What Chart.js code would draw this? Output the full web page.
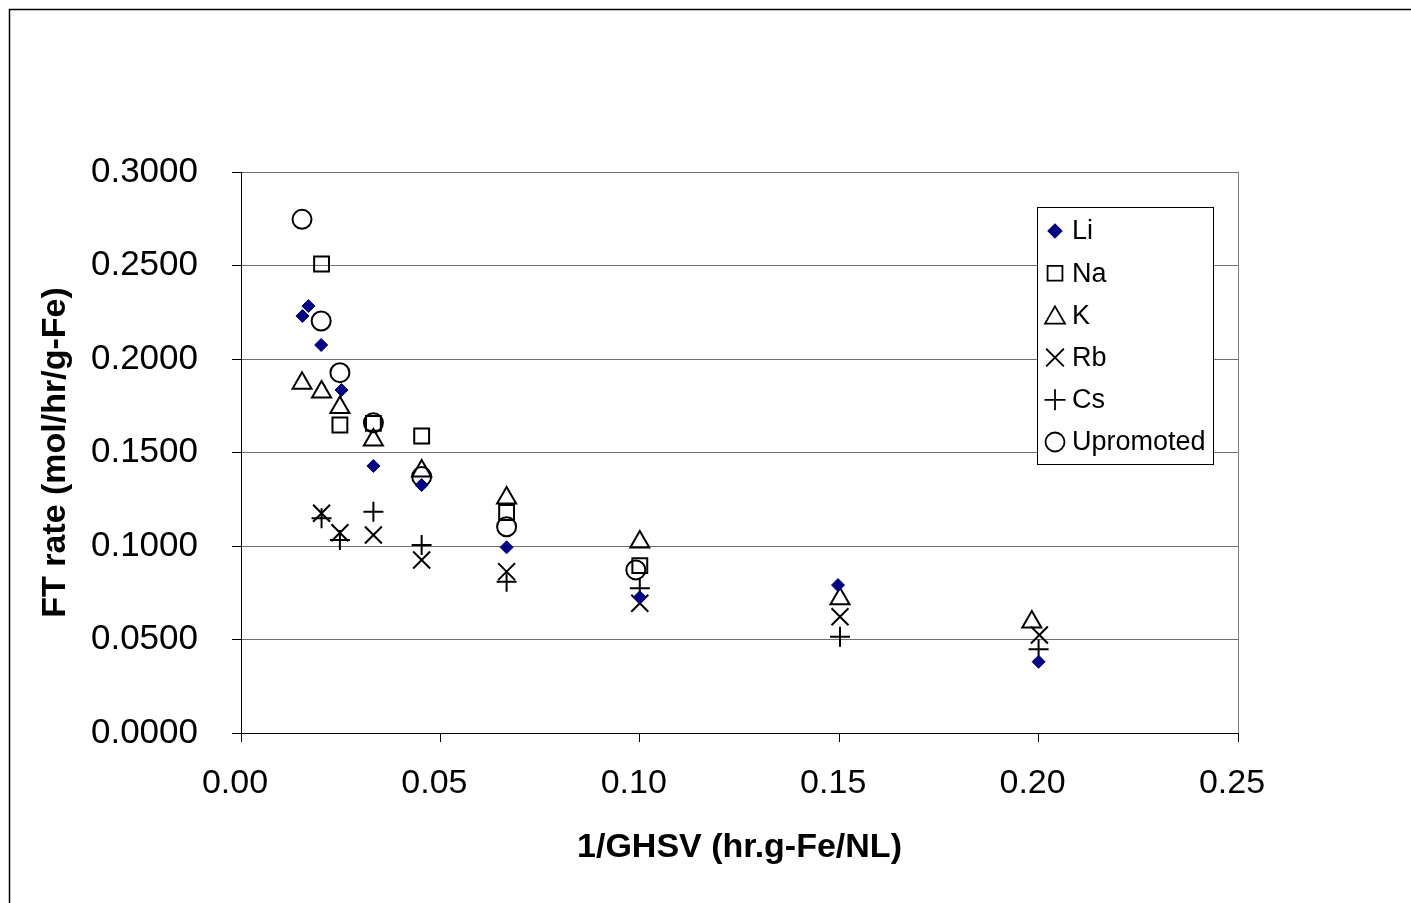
<!DOCTYPE html>
<html>
<head>
<meta charset="utf-8">
<title>FT rate vs 1/GHSV</title>
<script src="https://cdn.jsdelivr.net/npm/chart.js@4.4.1/dist/chart.umd.min.js"></script>
<style>
  body { margin: 0; background: #fff; }
  canvas { display: block; }
</style>
</head>
<body>
<canvas id="chart1" width="1411" height="903"></canvas>
<script>
// values
const liX = [0.0154, 0.0169, 0.0201, 0.0252, 0.0332, 0.0453, 0.0666, 0.1000, 0.1497, 0.2000];
const liY = [0.2230, 0.2283, 0.2075, 0.1834, 0.1428, 0.1326, 0.0993, 0.0726, 0.0791, 0.0381];

const naX = [0.0202, 0.0248, 0.0332, 0.0453, 0.0666, 0.1000];
const naY = [0.2508, 0.1647, 0.1656, 0.1588, 0.1179, 0.0895];

const kX = [0.0153, 0.0202, 0.0248, 0.0332, 0.0453, 0.0666, 0.1000, 0.1502, 0.1983];
const kY = [0.1870, 0.1823, 0.1741, 0.1567, 0.1401, 0.1257, 0.1021, 0.0718, 0.0593];

const rbX = [0.0202, 0.0248, 0.0332, 0.0453, 0.0666, 0.1000, 0.1502, 0.2002];
const rbY = [0.1175, 0.1071, 0.1059, 0.0925, 0.0863, 0.0694, 0.0622, 0.0524];

const csX = [0.0202, 0.0248, 0.0332, 0.0453, 0.0666, 0.1000, 0.1502, 0.2000];
const csY = [0.1148, 0.1032, 0.1183, 0.1005, 0.0809, 0.0774, 0.0515, 0.0448];

const unX = [0.0153, 0.0201, 0.0248, 0.0332, 0.0453, 0.0666, 0.0990];
const unY = [0.2747, 0.2203, 0.1927, 0.1659, 0.1371, 0.1103, 0.0872];

const seriesNames = ['Li', 'Na', 'K', 'Rb', 'Cs', 'Upromoted'];

const FONT = "'Liberation Sans', Arial, sans-serif";

function pts(xs, ys) {
  return xs.map((x, i) => ({ x: x, y: ys[i] }));
}

const datasets = [
  { label: seriesNames[0], data: pts(liX, liY), pointStyle: 'rectRot', pointRadius: 6.5,
    backgroundColor: '#000080', borderColor: '#000080', borderWidth: 1 },
  { label: seriesNames[1], data: pts(naX, naY), pointStyle: 'rect', pointRadius: 10.5,
    backgroundColor: 'transparent', borderColor: '#000', borderWidth: 2 },
  { label: seriesNames[2], data: pts(kX, kY), pointStyle: 'triangle', pointRadius: 11,
    backgroundColor: 'transparent', borderColor: '#000', borderWidth: 2 },
  { label: seriesNames[3], data: pts(rbX, rbY), pointStyle: 'crossRot', pointRadius: 12,
    backgroundColor: 'transparent', borderColor: '#000', borderWidth: 2 },
  { label: seriesNames[4], data: pts(csX, csY), pointStyle: 'cross', pointRadius: 10,
    backgroundColor: 'transparent', borderColor: '#000', borderWidth: 2 },
  { label: seriesNames[5], data: pts(unX, unY), pointStyle: 'circle', pointRadius: 9.5,
    backgroundColor: 'transparent', borderColor: '#000', borderWidth: 2 }
];

// outer frame + legend box inside plot area
const extras = {
  id: 'extras',
  beforeDraw(chart) {
    const c = chart.ctx;
    c.save();
    c.fillStyle = '#fff';
    c.fillRect(0, 0, chart.width, chart.height);
    c.strokeStyle = '#000';
    c.lineWidth = 1.5;
    c.strokeRect(9.5, 9.5, chart.width + 20, chart.height + 20);
    c.restore();
  },
  afterDraw(chart) {
    const c = chart.ctx;
    c.save();
    c.fillStyle = '#fff';
    c.fillRect(1037, 207, 177, 258);
    c.strokeStyle = '#000';
    c.lineWidth = 1;
    c.strokeRect(1037.5, 207.5, 176, 257);
    c.font = '27px ' + FONT;
    c.textBaseline = 'middle';
    c.textAlign = 'left';
    const sizes = [6.5, 10.5, 11.5, 12.5, 10.5, 9.5];
    chart.data.datasets.forEach((ds, i) => {
      const y = 231 + i * 42.2;
      c.fillStyle = ds.backgroundColor;
      c.strokeStyle = ds.borderColor;
      c.lineWidth = 1.8;
      Chart.helpers.drawPoint(c, {
        pointStyle: ds.pointStyle,
        radius: sizes[i],
        rotation: 0,
        borderWidth: i === 0 ? 1 : 1.8
      }, 1055, i === 2 ? y + 2.5 : y);
      c.fillStyle = '#000';
      c.fillText(ds.label, 1072, y + 1);
    });
    c.restore();
  }
};

const chart1 = new Chart(document.getElementById('chart1').getContext('2d'), {
  type: 'scatter',
  data: { datasets: datasets },
  options: {
    responsive: false,
    animation: false,
    layout: { padding: { top: 172, right: 173, left: 0, bottom: 0 } },
    plugins: {
      legend: { display: false },
      tooltip: { enabled: false }
    },
    scales: {
      x: {
        type: 'linear',
        min: 0,
        max: 0.25,
        afterFit(scale) { scale.height = 170; },
        ticks: {
          stepSize: 0.05,
          color: '#000',
          font: { family: FONT, size: 34 },
          padding: 21,
          labelOffset: -6,
          maxRotation: 0,
          callback: v => v.toFixed(2)
        },
        grid: {
          tickLength: 9,
          tickColor: '#000',
          lineWidth: 1,
          color: ctx => (ctx.tick && Math.abs(ctx.tick.value - 0.25) < 1e-9) ? '#808080' : 'transparent'
        },
        border: { color: '#000', width: 1 },
        title: {
          display: true,
          text: '1/GHSV (hr.g-Fe/NL)',
          color: '#000',
          font: { family: FONT, size: 34, weight: 'bold' },
          padding: { top: 0, bottom: 35 }
        }
      },
      y: {
        type: 'linear',
        min: 0,
        max: 0.3,
        afterFit(scale) { scale.width = 241; },
        ticks: {
          stepSize: 0.05,
          color: '#000',
          font: { family: FONT, size: 35 },
          padding: 34,
          callback: v => v.toFixed(4)
        },
        grid: {
          tickLength: 9,
          tickColor: '#000',
          color: '#707070',
          lineWidth: 1
        },
        border: { color: '#000', width: 1 },
        title: {
          display: true,
          text: 'FT rate (mol/hr/g-Fe)',
          color: '#000',
          font: { family: FONT, size: 34, weight: 'bold' },
          padding: { top: 35, bottom: 0 }
        }
      }
    }
  },
  plugins: [extras]
});
</script>
</body>
</html>
